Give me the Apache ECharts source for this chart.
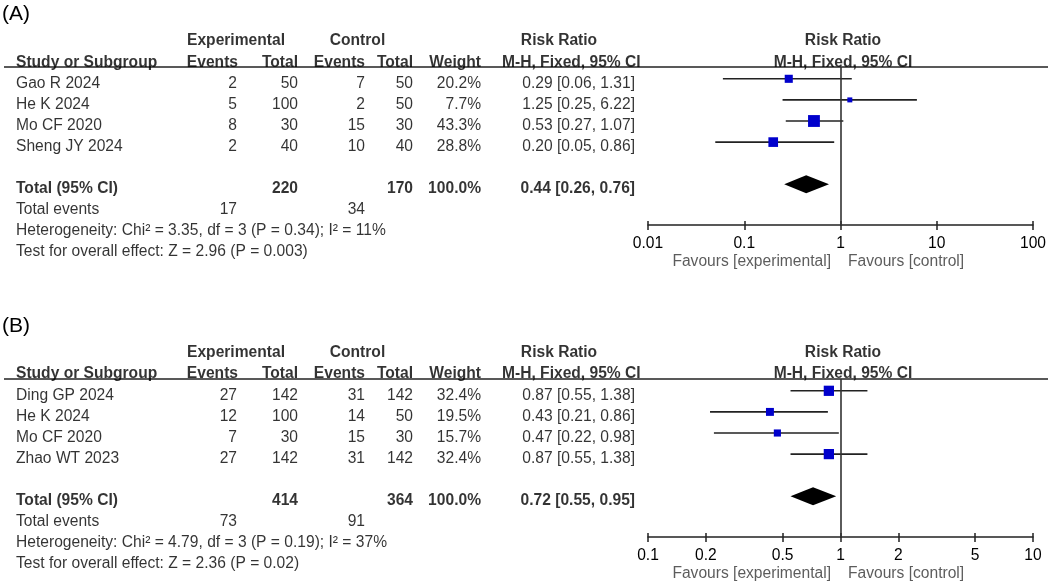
<!DOCTYPE html>
<html lang="en">
<head>
<meta charset="UTF-8">
<title>Forest plot</title>
<script src="https://cdn.jsdelivr.net/npm/echarts@6/dist/echarts.min.js"></script>
<style>
  body { margin: 0; background: #fff; }
  #chart { width: 1052px; height: 585px; }
</style>
</head>
<body>
<div id="chart"></div>
<script>
// ---- panel A data ----
const studiesA = ['Gao R 2024', 'He K 2024', 'Mo CF 2020', 'Sheng JY 2024'];
const expEventsA = [2, 5, 8, 2];
const expTotalA = [50, 100, 30, 40];
const ctlEventsA = [7, 2, 15, 10];
const ctlTotalA = [50, 50, 30, 40];
const weightA = [20.2, 7.7, 43.3, 28.8];
const rrA = [0.29, 1.25, 0.53, 0.20];
const loA = [0.06, 0.25, 0.27, 0.05];
const hiA = [1.31, 6.22, 1.07, 0.86];
const pooledA = [0.44, 0.26, 0.76];
const totalsA = [220, 170];
const eventsA = [17, 34];
const hetA = 'Heterogeneity: Chi² = 3.35, df = 3 (P = 0.34); I² = 11%';
const testA = 'Test for overall effect: Z = 2.96 (P = 0.003)';
const ticksA = [0.01, 0.1, 1, 10, 100];

// ---- panel B data ----
const studiesB = ['Ding GP 2024', 'He K 2024', 'Mo CF 2020', 'Zhao WT 2023'];
const expEventsB = [27, 12, 7, 27];
const expTotalB = [142, 100, 30, 142];
const ctlEventsB = [31, 14, 15, 31];
const ctlTotalB = [142, 50, 30, 142];
const weightB = [32.4, 19.5, 15.7, 32.4];
const rrB = [0.87, 0.43, 0.47, 0.87];
const loB = [0.55, 0.21, 0.22, 0.55];
const hiB = [1.38, 0.86, 0.98, 1.38];
const pooledB = [0.72, 0.55, 0.95];
const totalsB = [414, 364];
const eventsB = [73, 91];
const hetB = 'Heterogeneity: Chi² = 4.79, df = 3 (P = 0.19); I² = 37%';
const testB = 'Test for overall effect: Z = 2.36 (P = 0.02)';
const ticksB = [0.1, 0.2, 0.5, 1, 2, 5, 10];

const FONT = '"Liberation Sans", Arial, Helvetica, sans-serif';
const FS = 15.6;
const INK = '#000';
const LINE = '#222';
const BLUE = '#0000cc';

// layout (px)
const U = 21.1;       // row pitch
const TXT0 = 83.3;    // first study text row
const MK0 = 78.8;     // first study marker row
const RULE = 67;      // header rule
const AXIS = 225;     // x axis line
const FAV = 262;      // favours labels
const DY = 312;       // panel B offset

const fmt = v => v.toFixed(2);
const ciText = (r, l, h) => fmt(r) + ' [' + fmt(l) + ', ' + fmt(h) + ']';

const panels = [
  { studies: studiesA, expEv: expEventsA, expTot: expTotalA, ctlEv: ctlEventsA, ctlTot: ctlTotalA,
    weight: weightA, rr: rrA, lo: loA, hi: hiA, pooled: pooledA, totals: totalsA, events: eventsA,
    het: hetA, test: testA, ticks: ticksA },
  { studies: studiesB, expEv: expEventsB, expTot: expTotalB, ctlEv: ctlEventsB, ctlTot: ctlTotalB,
    weight: weightB, rr: rrB, lo: loB, hi: hiB, pooled: pooledB, totals: totalsB, events: eventsB,
    het: hetB, test: testB, ticks: ticksB }
];

const grid = [], xAxis = [], yAxis = [], series = [];

panels.forEach((d, k) => {
  const oy = k * DY;
  const gT = grid.length, gP = grid.length + 1;
  grid.push({ left: 0, width: 1052, top: TXT0 - 2.5 * U + oy, height: 11.5 * U, containLabel: false });
  grid.push({ left: 648, width: 385, top: RULE + oy, height: AXIS - RULE, containLabel: false });

  const xT = xAxis.length;
  xAxis.push({ gridIndex: gT, type: 'value', min: 0, max: 1052, show: false });
  const xP = xAxis.length;
  xAxis.push({
    gridIndex: gP, type: 'log', logBase: 10, min: d.ticks[0], max: d.ticks[d.ticks.length - 1],
    position: 'bottom',
    axisLine: { show: true, onZero: false, lineStyle: { color: LINE, width: 1.5 } },
    axisTick: { show: true, length: 5, customValues: d.ticks, lineStyle: { color: LINE, width: 1.5 } },
    axisLabel: {
      customValues: d.ticks, margin: 11, fontSize: FS, color: INK, fontFamily: FONT,
      showMinLabel: true, showMaxLabel: true,
      formatter: v => String(parseFloat(Number(v).toPrecision(6)))
    },
    splitLine: { show: false }
  });
  xAxis.push({
    gridIndex: gP, type: 'log', logBase: 10, min: d.ticks[0], max: d.ticks[d.ticks.length - 1],
    position: 'bottom',
    axisLine: { show: false, onZero: false },
    axisTick: { show: true, inside: true, length: 4, customValues: d.ticks, lineStyle: { color: LINE, width: 1.5 } },
    axisLabel: { show: false },
    splitLine: { show: false }
  });

  const yT = yAxis.length;
  yAxis.push({ gridIndex: gT, type: 'value', min: -2.5, max: 9, inverse: true, show: false });
  const yP = yAxis.length;
  yAxis.push({ gridIndex: gP, type: 'value', min: (RULE - MK0) / U, max: (AXIS - MK0) / U, inverse: true, show: false });

  // table cells
  const cells = [];
  const cell = (x, row, t, align, bold) => cells.push({
    value: [x, row], t: String(t),
    label: { align: align, fontWeight: bold ? 'bold' : 'normal' }
  });
  cell(236, -2, 'Experimental', 'center', true);
  cell(357.5, -2, 'Control', 'center', true);
  cell(559, -2, 'Risk Ratio', 'center', true);
  cell(843, -2, 'Risk Ratio', 'center', true);
  cell(16, -1, 'Study or Subgroup', 'left', true);
  cell(238, -1, 'Events', 'right', true);
  cell(298, -1, 'Total', 'right', true);
  cell(365, -1, 'Events', 'right', true);
  cell(413, -1, 'Total', 'right', true);
  cell(481, -1, 'Weight', 'right', true);
  cell(502, -1, 'M-H, Fixed, 95% CI', 'left', true);
  cell(843, -1, 'M-H, Fixed, 95% CI', 'center', true);
  d.studies.forEach((s, i) => {
    cell(16, i, s, 'left');
    cell(237, i, d.expEv[i], 'right');
    cell(298, i, d.expTot[i], 'right');
    cell(365, i, d.ctlEv[i], 'right');
    cell(413, i, d.ctlTot[i], 'right');
    cell(481, i, d.weight[i].toFixed(1) + '%', 'right');
    cell(635, i, ciText(d.rr[i], d.lo[i], d.hi[i]), 'right');
  });
  const wSum = d.weight.reduce((a, b) => a + b, 0);
  cell(16, 5, 'Total (95% CI)', 'left', true);
  cell(298, 5, d.totals[0], 'right', true);
  cell(413, 5, d.totals[1], 'right', true);
  cell(481, 5, wSum.toFixed(1) + '%', 'right', true);
  cell(635, 5, ciText(d.pooled[0], d.pooled[1], d.pooled[2]), 'right', true);
  cell(16, 6, 'Total events', 'left');
  cell(237, 6, d.events[0], 'right');
  cell(365, 6, d.events[1], 'right');
  cell(16, 7, d.het, 'left');
  cell(16, 8, d.test, 'left');

  series.push({
    type: 'scatter', xAxisIndex: xT, yAxisIndex: yT, silent: true, clip: false,
    symbolSize: 1, itemStyle: { color: 'rgba(0,0,0,0)' },
    label: {
      show: true, position: 'inside', verticalAlign: 'middle',
      fontSize: FS, color: INK, fontFamily: FONT,
      formatter: p => p.data.t
    },
    data: cells
  });

  // study CIs and weighted squares
  series.push({
    type: 'custom', xAxisIndex: xP, yAxisIndex: yP, silent: true,
    encode: { x: [0, 1, 2], y: 3 },
    data: d.rr.map((v, i) => [v, d.lo[i], d.hi[i], i, d.weight[i]]),
    renderItem: (params, api) => {
      const row = api.value(3);
      const c = api.coord([api.value(0), row]);
      const l = api.coord([api.value(1), row]);
      const h = api.coord([api.value(2), row]);
      const s = 1.8 * Math.sqrt(api.value(4));
      return {
        type: 'group',
        children: [
          { type: 'line', shape: { x1: l[0], y1: l[1], x2: h[0], y2: h[1] },
            style: { stroke: LINE, lineWidth: 1.6 } },
          { type: 'rect', shape: { x: c[0] - s / 2, y: c[1] - s / 2, width: s, height: s },
            style: { fill: BLUE } }
        ]
      };
    },
    markLine: {
      silent: true, symbol: 'none', label: { show: false },
      lineStyle: { color: '#333', width: 1.6, type: 'solid' },
      data: [{ xAxis: 1 }]
    }
  });

  // pooled diamond
  series.push({
    type: 'custom', xAxisIndex: xP, yAxisIndex: yP, silent: true,
    encode: { x: [0, 1, 2], y: 3 },
    data: [[d.pooled[0], d.pooled[1], d.pooled[2], 5]],
    renderItem: (params, api) => {
      const row = api.value(3);
      const c = api.coord([api.value(0), row]);
      const l = api.coord([api.value(1), row]);
      const h = api.coord([api.value(2), row]);
      return {
        type: 'polygon',
        shape: { points: [[l[0], l[1]], [c[0], c[1] - 9], [h[0], h[1]], [c[0], c[1] + 9]] },
        style: { fill: '#000' }
      };
    }
  });

  // favours labels
  const favRow = (FAV - MK0) / U;
  series.push({
    type: 'scatter', xAxisIndex: xP, yAxisIndex: yP, silent: true, clip: false,
    symbolSize: 1, itemStyle: { color: 'rgba(0,0,0,0)' },
    label: {
      show: true, verticalAlign: 'middle', fontSize: FS, color: '#333', fontFamily: FONT,
      formatter: p => p.data.t
    },
    data: [
      { value: [1, favRow], t: 'Favours [experimental]', label: { position: 'left', distance: 9 } },
      { value: [1, favRow], t: 'Favours [control]', label: { position: 'right', distance: 7 } }
    ]
  });
});

const chart = echarts.init(document.getElementById('chart'));
chart.setOption({
  animation: false,
  backgroundColor: '#fff',
  textStyle: { fontFamily: FONT },
  title: [
    { text: '(A)', left: 2, top: 4, padding: 0, textStyle: { fontSize: 21, fontWeight: 'normal', color: INK, fontFamily: FONT } },
    { text: '(B)', left: 2, top: 4 + DY, padding: 0, textStyle: { fontSize: 21, fontWeight: 'normal', color: INK, fontFamily: FONT } }
  ],
  graphic: [
    { type: 'line', shape: { x1: 4, y1: RULE, x2: 1048, y2: RULE }, style: { stroke: LINE, lineWidth: 1.5 } },
    { type: 'line', shape: { x1: 4, y1: RULE + DY, x2: 1048, y2: RULE + DY }, style: { stroke: LINE, lineWidth: 1.5 } }
  ],
  grid: grid,
  xAxis: xAxis,
  yAxis: yAxis,
  series: series
});
</script>
</body>
</html>
